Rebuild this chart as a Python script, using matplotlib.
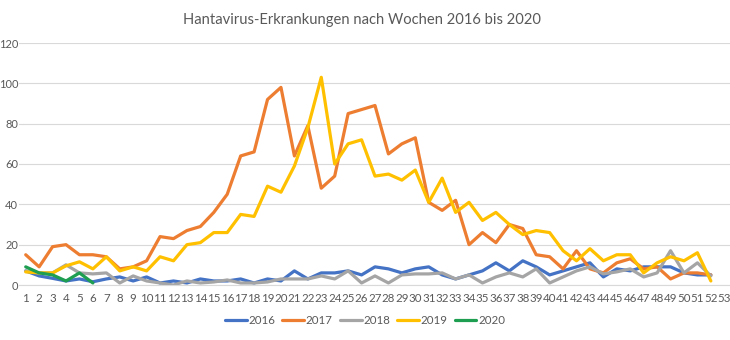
import matplotlib
matplotlib.use("Agg")
import matplotlib.pyplot as plt

weeks = list(range(1, 53))
weeks_2020 = list(range(1, 7))
x_ticks = list(range(1, 54))
y_ticks = [0, 20, 40, 60, 80, 100, 120]

v2016 = [7, 4.5, 3.3, 2, 3, 1.6, 3, 4, 2, 4, 1, 2, 1, 3, 2, 2, 3, 1, 3, 2, 7, 3, 6, 6, 7, 5,
         9, 8, 6, 8, 9, 5, 3, 5, 7, 11, 7, 12, 9, 5, 7, 9, 11, 4, 8, 7, 9, 9, 9, 6, 5, 5]
v2017 = [15, 9, 19, 20, 15, 15, 14, 8, 9, 12, 24, 23, 27, 29, 36, 45, 64, 66, 92, 98, 64, 79,
         48, 54, 85, 87, 89, 65, 70, 73, 41, 37, 42, 20, 26, 21, 30, 28, 15, 14, 8, 17, 8, 6,
         11, 13, 8, 9, 3, 6, 6, 5]
v2018 = [7, 6, 6, 10, 6, 5.5, 6, 1, 4.5, 2, 1, 0, 2, 1, 1.5, 2.5, 1, 1, 1.5, 3, 3, 3, 4.5, 3,
         7, 1, 4.5, 1, 5, 5.5, 5.5, 6, 3, 5, 1, 4, 6, 4, 8, 1, 4, 7, 9, 5.5, 6.5, 8, 4, 6, 17,
         6, 11, 4.5]
v2019 = [6.5, 6, 6, 9.5, 11.5, 8, 14, 7, 9, 7, 14, 12, 20, 21, 26, 26, 35, 34, 49, 46, 59, 78,
         103, 60, 70, 72, 54, 55, 52, 57, 41, 53, 36, 41, 32, 36, 30, 25, 27, 26, 17, 12, 18,
         12, 15, 15, 6, 11, 14, 12, 16, 2]
v2020 = [9, 6, 5, 2, 6, 1]

series = [
    ("2016", weeks, v2016, "#4472C4"),
    ("2017", weeks, v2017, "#ED7D31"),
    ("2018", weeks, v2018, "#A5A5A5"),
    ("2019", weeks, v2019, "#FFC000"),
    ("2020", weeks_2020, v2020, "#1E9E50"),
]

plt.rcParams['font.family'] = ['Lato', 'DejaVu Sans']
W, H = 730, 340
fig = plt.figure(figsize=(W / 100, H / 100), dpi=100)
left, right, bottom, top = 19, 731, 285, 43
ax = fig.add_axes([left / W, (H - bottom) / H, (right - left) / W, (bottom - top) / H])

for name, xs, ys, col in series:
    ax.plot(xs, ys, color=col, lw=2.3, label=name, solid_joinstyle='round', solid_capstyle='round')

ax.set_xlim(0.5, 53.5)
ax.set_ylim(0, 120)
ax.set_xticks(x_ticks)
ax.set_xticklabels([str(t) for t in x_ticks])
ax.set_yticks(y_ticks)
ax.grid(axis='y', color='#D9D9D9', lw=0.8)
ax.set_axisbelow(True)
for s in ['top', 'right', 'left']:
    ax.spines[s].set_visible(False)
ax.spines['bottom'].set_color('#D9D9D9')
ax.spines['bottom'].set_linewidth(0.8)
ax.tick_params(axis='both', length=0, labelcolor='#595959')
ax.tick_params(axis='x', pad=6, labelsize=8.3)
ax.tick_params(axis='y', pad=0.6, labelsize=8)

fig.text(362 / W, 1 - 20 / H, "Hantavirus-Erkrankungen nach Wochen 2016 bis 2020",
         ha='center', va='center', fontsize=10.6, color='#595959')

leg = fig.legend(loc='center', bbox_to_anchor=(365 / W, 1 - 321 / H), ncol=5, frameon=False,
                 fontsize=8.3, handlelength=1.9, handletextpad=0.15, columnspacing=0.6)
for t in leg.get_texts():
    t.set_color('#595959')

fig.savefig("out.png", dpi=100)
